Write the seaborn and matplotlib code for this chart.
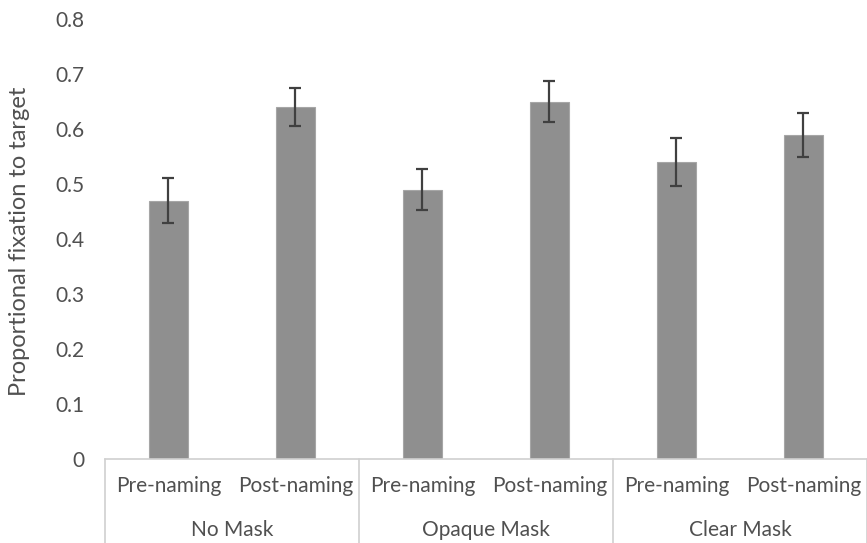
import numpy as np
import pandas as pd
import matplotlib.pyplot as plt
import seaborn as sns

# data
groups = ["No Mask", "Opaque Mask", "Clear Mask"]
phases = ["Pre-naming", "Post-naming"]
means = [0.47, 0.64, 0.49, 0.65, 0.54, 0.59]
errors = [0.041, 0.035, 0.037, 0.038, 0.043, 0.040]
yticks = [0, 0.1, 0.2, 0.3, 0.4, 0.5, 0.6, 0.7, 0.8]
ytick_labels = ["0", "0.1", "0.2", "0.3", "0.4", "0.5", "0.6", "0.7", "0.8"]

keys = [f"{g}|{p}" for g in groups for p in phases]
df = pd.DataFrame({"key": keys, "value": means})

sns.set_style("white")
plt.rcParams["font.family"] = ["Lato", "DejaVu Sans"]
txt = "#505050"

fig = plt.figure(figsize=(8.67, 5.43), dpi=100)
ax = fig.add_axes([0.121, 0.1547, 0.879, 0.8103])

sns.barplot(data=df, x="key", y="value", order=keys, color="#8f8f8f",
            saturation=1, width=0.31, edgecolor="#a6a6a6", linewidth=0.8,
            errorbar=None, ax=ax)

xs = [p.get_x() + p.get_width() / 2 for p in ax.patches]
ax.errorbar(xs, means, yerr=errors, fmt="none", ecolor="#404040",
            elinewidth=1.6, capsize=4.5, capthick=1.6)

ax.set_ylim(0, 0.8)
ax.set_xlim(-0.5, 5.5)
ax.set_yticks(yticks)
ax.set_yticklabels(ytick_labels)
ax.set_xticks(range(len(keys)))
ax.set_xticklabels([k.split("|")[1] for k in keys])
ax.tick_params(axis="y", length=0, pad=15, labelsize=15, labelcolor=txt)
ax.tick_params(axis="x", length=0, pad=12, labelsize=15, labelcolor=txt)
ax.set_xlabel("")
ax.set_ylabel("Proportional fixation to target", fontsize=17, color=txt)
ax.yaxis.set_label_coords(-0.098, 0.495)

for s in ["top", "right", "left"]:
    ax.spines[s].set_visible(False)
ax.spines["bottom"].set_color("#d0d0d0")
ax.spines["bottom"].set_linewidth(1.2)

# group separators and group labels
trans = ax.get_xaxis_transform()
for x in [-0.5, 1.5, 3.5, 5.5]:
    ax.plot([x, x], [0, -0.2], color="#d0d0d0", lw=1.2, transform=trans,
            clip_on=False)
for i, g in enumerate(groups):
    ax.text(2 * i + 0.5, -0.161, g, transform=trans, ha="center", va="center",
            fontsize=15, color=txt)

fig.savefig("out.png", dpi=100)
